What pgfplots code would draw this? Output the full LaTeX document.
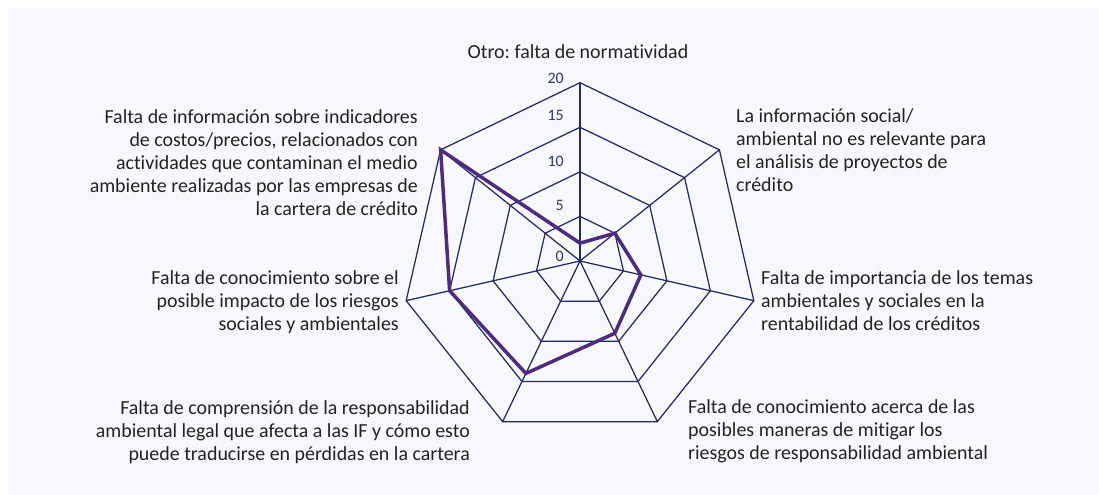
\documentclass[border=0pt]{standalone}
\usepackage{fontspec}
\setmainfont{Carlito}[Ligatures=NoCommon]
\usepackage{pgfplots}
\pgfplotsset{compat=1.18}
\usetikzlibrary{backgrounds}
\definecolor{gridnavy}{RGB}{36,42,96}
\definecolor{lineviolet}{RGB}{78,44,124}
\definecolor{bgpanel}{RGB}{246,248,251}
\definecolor{txt}{RGB}{34,34,34}
\definecolor{ticknavy}{RGB}{48,54,110}
\frenchspacing

\begin{document}
\begin{tikzpicture}
\begin{axis}[
  x=8.915bp, y=8.915bp,
  xmin=-21, xmax=21, ymin=-21, ymax=21,
  hide axis,
  clip=false,
  every axis plot/.append style={data cs=polar, line join=miter},
]
% spokes
\addplot[gridnavy, line width=1.25bp] coordinates {(0,0) (90,20)};
\addplot[gridnavy, line width=1.25bp] coordinates {(0,0) (38.571,20)};
\addplot[gridnavy, line width=1.25bp] coordinates {(0,0) (-12.857,20)};
\addplot[gridnavy, line width=1.25bp] coordinates {(0,0) (-64.286,20)};
\addplot[gridnavy, line width=1.25bp] coordinates {(0,0) (-115.714,20)};
\addplot[gridnavy, line width=1.25bp] coordinates {(0,0) (-167.143,20)};
\addplot[gridnavy, line width=1.25bp] coordinates {(0,0) (141.429,20)};
% rings
\addplot[gridnavy, line width=1.25bp] coordinates {(90,5) (38.571,5) (-12.857,5) (-64.286,5) (-115.714,5) (-167.143,5) (141.429,5) (90,5)};
\addplot[gridnavy, line width=1.25bp] coordinates {(90,10) (38.571,10) (-12.857,10) (-64.286,10) (-115.714,10) (-167.143,10) (141.429,10) (90,10)};
\addplot[gridnavy, line width=1.25bp] coordinates {(90,15) (38.571,15) (-12.857,15) (-64.286,15) (-115.714,15) (-167.143,15) (141.429,15) (90,15)};
\addplot[gridnavy, line width=1.25bp] coordinates {(90,20) (38.571,20) (-12.857,20) (-64.286,20) (-115.714,20) (-167.143,20) (141.429,20) (90,20)};
% series
\addplot[lineviolet, line width=3.5bp] coordinates {
  (90,2) (38.571,5) (-12.857,7) (-64.286,9) (-115.714,14) (-167.143,15) (141.429,20) (90,2)};
\coordinate (c) at (axis cs:0,0);
\end{axis}

\begin{scope}[on background layer]
\fill[white] ([shift={(-580bp,261bp)}]c) rectangle ([shift={(519bp,-234bp)}]c);
\fill[bgpanel] ([shift={(-572bp,253bp)}]c) rectangle ([shift={(519bp,-234bp)}]c);
\end{scope}

\begin{scope}[every node/.style={inner sep=0pt, text=txt, font=\fontsize{20}{23.3}\selectfont}]
\node[anchor=north] at ([shift={(-2bp,217bp)}]c) {Otro: falta de normatividad};
\node[anchor=north west, align=left] at ([shift={(156bp,153bp)}]c)
  {La información social/\\ambiental no es relevante para\\el análisis de proyectos de\\crédito};
\node[anchor=north west, align=left] at ([shift={(181bp,-9bp)}]c)
  {Falta de importancia de los temas\\ambientales y sociales en la\\rentabilidad de los créditos};
\node[anchor=north west, align=left] at ([shift={(108bp,-138bp)}]c)
  {Falta de conocimiento acerca de las\\posibles maneras de mitigar los\\riesgos de responsabilidad ambiental};
\node[anchor=north east, align=right] at ([shift={(-110bp,-139bp)}]c)
  {Falta de comprensión de la responsabilidad\\ambiental legal que afecta a las IF y cómo esto\\puede traducirse en pérdidas en la cartera};
\node[anchor=north east, align=right] at ([shift={(-181bp,-9bp)}]c)
  {Falta de conocimiento sobre el\\posible impacto de los riesgos\\sociales y ambientales};
\node[anchor=north east, align=right] at ([shift={(-162bp,152bp)}]c)
  {Falta de información sobre indicadores\\de costos/precios, relacionados con\\actividades que contaminan el medio\\ambiente realizadas por las empresas de\\la cartera de crédito};
\end{scope}

\begin{scope}[every node/.style={inner sep=0pt, anchor=east, text=ticknavy, font=\fontsize{16}{18}\selectfont}]
\node at ([shift={(-16bp,5bp)}]c) {0};
\node at ([shift={(-16bp,55.5bp)}]c) {5};
\node at ([shift={(-16bp,100bp)}]c) {10};
\node at ([shift={(-16bp,146bp)}]c) {15};
\node at ([shift={(-16bp,183bp)}]c) {20};
\end{scope}
\end{tikzpicture}
\end{document}
